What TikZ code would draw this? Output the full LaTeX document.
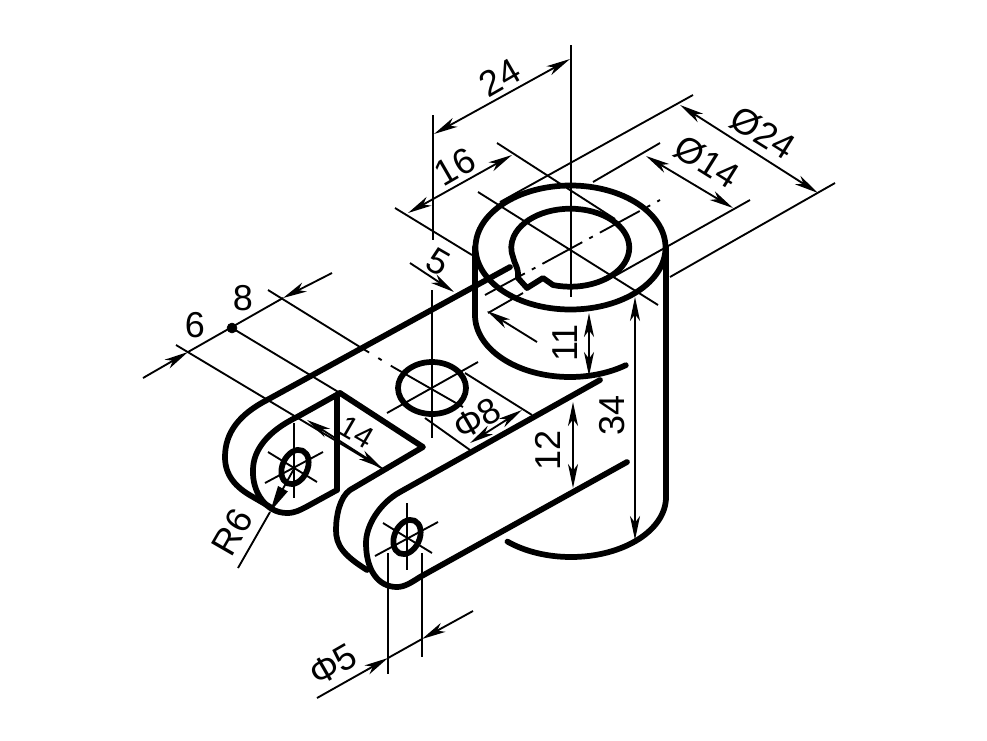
\documentclass[tikz,border=0pt]{standalone}
\usepackage{fontspec}
\setmainfont{Liberation Sans}
\usetikzlibrary{arrows.meta}
\usetikzlibrary{positioning}

\begin{document}
\begin{tikzpicture}[x=0.75pt,y=0.75pt,yscale=-1,xscale=1,
    objline/.style={line width=4.3pt,line cap=round,line join=round},
    thinline/.style={line width=1.4pt},
    dimtip/.style={-{Stealth[length=18pt,width=7.5pt,inset=5pt]},line width=1.4pt},
    dimboth/.style={{Stealth[length=18pt,width=7.5pt,inset=5pt]}-{Stealth[length=18pt,width=7.5pt,inset=5pt]},line width=1.4pt},
    dimlabel/.style={font=\fontsize{27}{27}\selectfont,inner sep=0pt},
    smalllabel/.style={font=\fontsize{23}{23}\selectfont,inner sep=0pt}]

\useasboundingbox (0,0) rectangle (987,740);

\coordinate (boss) at (570.5,247.5);
\coordinate (borehole) at (571,247);
\coordinate (armhole) at (432,388);
\coordinate (lughole1) at (295,467);
\coordinate (lughole2) at (407,537);
\coordinate (bossleft) at (475,247);
\coordinate (bossright) at (666,247);
\coordinate (slottop) at (340,393);
\coordinate (slotbottom) at (337,490);
\coordinate (slotright) at (423,447);
\coordinate (dimdot) at (232,328);

% Cylinder
\draw [objline] (boss) ellipse [x radius=95, y radius=62];
\draw [objline] (bossleft) -- (475,315) arc [start angle=180, end angle=54, x radius=95, y radius=62];
\draw [objline] (bossright) -- (666,497) arc [start angle=0, end angle=132, x radius=95, y radius=60];

% Bore with keyway
\draw [objline] (553,285) arc [start angle=107, end angle=-195, x radius=59, y radius=39]
    .. controls (514,263) and (519,268) .. (518,278) -- (527,288) -- (543,278) -- cycle;

% Left lug
\draw [objline] (510,267) -- (267,400) .. controls (240,414) and (225,432) .. (225,457)
    .. controls (225,475) and (235,487) .. (253,497) -- (272,508);
\draw [objline] (slottop) -- (297,417) .. controls (268,431) and (253,450) .. (253,470)
    .. controls (252,492) and (266,513) .. (287,513) .. controls (295,513) and (300,510) .. (306,507) -- (slotbottom);
\draw [objline] (337,397) -- (slotbottom);

% Right lug
\draw [objline] (slottop) -- (slotright) -- (350,490) .. controls (340,497) and (336,515) .. (336,530)
    .. controls (336,545) and (343,555) .. (367,570);
\draw [objline] (600,380) -- (400,492) .. controls (380,503) and (366,525) .. (366,543)
    .. controls (366,570) and (378,587) .. (397,587) .. controls (405,587) and (412,582) .. (420,577) -- (627,462);

% Holes
\draw [objline] (armhole) ellipse [x radius=34, y radius=26];
\draw [objline,rotate around={-65:(lughole1)}] (lughole1) ellipse [x radius=18, y radius=12.5];
\draw [objline,rotate around={-65:(lughole2)}] (lughole2) ellipse [x radius=18, y radius=12.5];

% Centre Lines
\draw [thinline] (571,45) -- (571,297);
\draw [thinline] (478,192) -- (658,305);
\draw [thinline,dash pattern={on 34pt off 6pt on 3pt off 6pt}] (485,295) -- (660,200);
\draw [thinline] (432,290) -- (432,438);
\draw [thinline] (387,413) -- (478,362);
\draw [thinline] (294,423) -- (294,498);
\draw [thinline] (268,452) -- (317,482);
\draw [thinline] (265,483) -- (323,452);
\draw [thinline] (407,503) -- (407,570);
\draw [thinline] (383,523) -- (432,553);
\draw [thinline] (375,556) -- (438,522);

% Extension Lines
\draw [thinline] (433,115) -- (433,240);
\draw [thinline] (395,208) -- (472,255);
\draw [thinline] (497,143) -- (615,219);
\draw [thinline] (500,202) -- (693,95);
\draw [thinline] (670,277) -- (835,183);
\draw [thinline] (593,182) -- (660,143);
\draw [thinline] (613,277) -- (750,200);
\draw [thinline] (488,313) -- (523,293);
\draw [thinline] (176,345) -- (383,469);
\draw [thinline] (dimdot) -- (slottop);
\draw [thinline] (268,290) -- (360,347);
\draw [thinline,dash pattern={on 8pt off 8pt on 3pt off 8pt}] (360,347) -- (393,367);
\draw [thinline] (393,367) -- (463,407);
\draw [thinline] (465,373) -- (532,415);
\draw [thinline] (425,418) -- (470,450);
\draw [thinline] (388,553) -- (388,674);
\draw [thinline] (422,553) -- (422,657);

% Dimension Lines
\draw [dimboth] (434,134) -- (570,59);
\draw [dimboth] (408,213) -- (512,155);
\draw [dimboth] (680,105) -- (818,193);
\draw [dimboth] (646,156) -- (733,208);
\draw [dimboth] (589,313) -- (589,376);
\draw [dimboth] (635,297) -- (635,540);
\draw [dimboth] (573,402) -- (573,488);
\draw [dimboth] (470,443) -- (522,410);
\draw [dimboth] (307,420) -- (382,468);

% Dimension Lines, Arrows From Outside
\draw [dimtip] (410,263) -- (454,292);
\draw [dimtip] (537,342) -- (487,311);
\draw [dimtip] (143,378) -- (188,352);
\draw [dimtip] (332,273) -- (283,298);
\draw [thinline] (188,352) -- (283,298);
\draw [fill=black] (dimdot) circle [radius=5];
\draw [dimtip] (317,698) -- (388,658);
\draw [dimtip] (473,611) -- (422,639);
\draw [thinline] (388,658) -- (422,639);
\draw [thinline] (238,568) -- (270,512);
\draw [-{Stealth[length=20pt,width=8pt,inset=0pt]},line width=1.4pt] (295,467) -- (270,512);

% Dimension Labels
\node (dimA)  [dimlabel,rotate=30]  at (500,78)  {24};
\node (dimB)  [dimlabel,rotate=30]  at (455,167) {16};
\node (dimC)  [dimlabel,rotate=-32] at (763,133) {Ø24};
\node (dimD)  [dimlabel,rotate=-32] at (707,162) {Ø14};
\node (dimE)  [dimlabel,rotate=-30] at (438,262) {5};
\node (dimF)  [dimlabel,rotate=90]  at (565,343) {11};
\node (dimG)  [dimlabel,rotate=90]  at (548,450) {12};
\node (dimH)  [dimlabel,rotate=90]  at (612,415) {34};
\node (dimI)  [dimlabel]            at (195,325) {6};
\node (dimJ)  [dimlabel]            at (243,298) {8};
\node (dimK)  [smalllabel,rotate=-30] at (357,432) {14};
\node (dimL)  [dimlabel,rotate=30]  at (477,419) {Φ8};
\node (dimM)  [dimlabel,rotate=30]  at (333,665) {Φ5};
\node (dimN)  [dimlabel,rotate=60]  at (232,532) {R6};

\end{tikzpicture}
\end{document}
